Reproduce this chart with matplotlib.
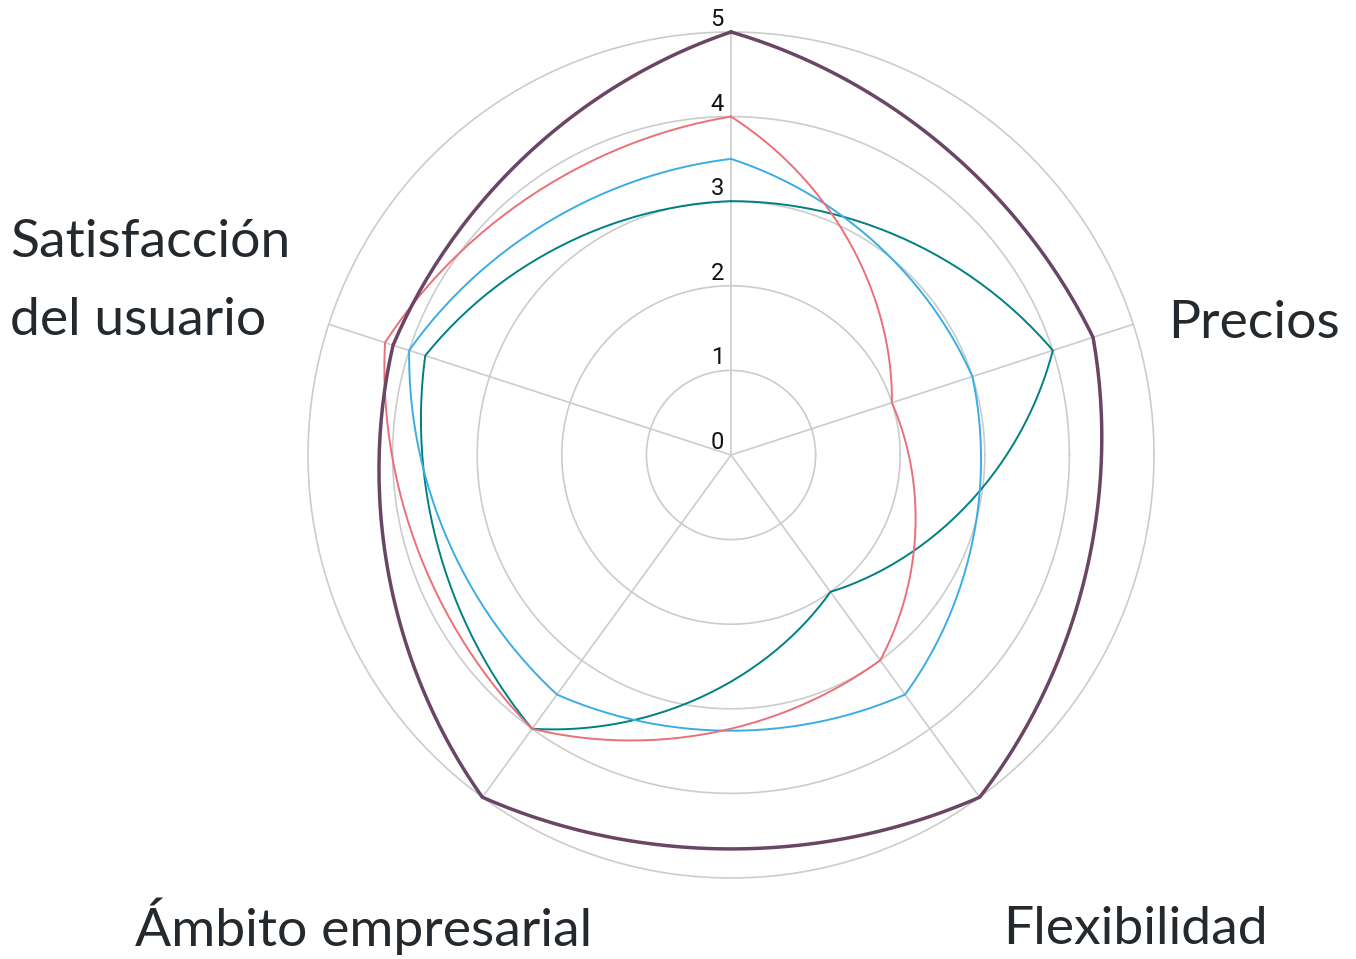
import numpy as np
import matplotlib
matplotlib.use("Agg")
import matplotlib.pyplot as plt

# ---- data ----
categories = ["", "Precios", "Flexibilidad", "Ámbito empresarial", "Satisfacción\ndel usuario"]
series_purple = [5, 4.5, 5, 5, 4.2]
series_red = [4, 2, 3, 4, 4.3]
series_blue = [3.5, 3, 3.5, 3.5, 4]
series_teal = [3, 4, 2, 4, 3.8]
tick_values = [0, 1, 2, 3, 4, 5]

colors = {"purple": "#6b4566", "red": "#eb7077", "blue": "#3aade6", "teal": "#008080"}

W, H = 1356, 959
CX, CY = 731, 455          # centre in pixels (from top-left)
PPU = 84.6                 # pixels per unit
RMAX = 5

fig = plt.figure(figsize=(W / 100, H / 100), dpi=100)
ax = fig.add_axes([0, 0, 1, 1])
ax.set_xlim(-CX / PPU, (W - CX) / PPU)
ax.set_ylim(-(H - CY) / PPU, CY / PPU)
ax.axis("off")

n = len(categories)
angles = np.deg2rad(90 - 360 / n * np.arange(n))

grid_col = "#cccccc"
th = np.linspace(0, 2 * np.pi, 400)
for r in tick_values[1:]:
    ax.plot(r * np.cos(th), r * np.sin(th), color=grid_col, lw=1.2, zorder=1)
for a in angles:
    ax.plot([0, RMAX * np.cos(a)], [0, RMAX * np.sin(a)], color=grid_col, lw=1.2, zorder=1)

ALPHA = 0.64


def curve(vals):
    xs, ys = [], []
    t = np.linspace(0, 1, 60)
    for i in range(n):
        j = (i + 1) % n
        a0 = angles[i]
        a1 = a0 - 2 * np.pi / n
        r0, r1 = vals[i], vals[j]
        rr = r0 + (r1 - r0) * t
        aa = a0 + (a1 - a0) * t
        px, py = rr * np.cos(aa), rr * np.sin(aa)
        A = np.array([r0 * np.cos(a0), r0 * np.sin(a0)])
        B = np.array([r1 * np.cos(a1), r1 * np.sin(a1)])
        cx = A[0] + (B[0] - A[0]) * t
        cy = A[1] + (B[1] - A[1]) * t
        xs.append(ALPHA * px + (1 - ALPHA) * cx)
        ys.append(ALPHA * py + (1 - ALPHA) * cy)
    return np.concatenate(xs), np.concatenate(ys)


for vals, col, lw in [(series_teal, colors["teal"], 1.4),
                      (series_blue, colors["blue"], 1.4),
                      (series_red, colors["red"], 1.4),
                      (series_purple, colors["purple"], 2.5)]:
    x, y = curve(vals)
    ax.plot(x, y, color=col, lw=lw, zorder=3, solid_joinstyle="miter")

# radial tick labels
for v in tick_values:
    ax.text(-7 / PPU, v + 6 / PPU, str(v), ha="right", va="baseline",
            fontsize=17, family="Roboto", color="#111111", zorder=4)


def px2d(px, py):
    return (px - CX) / PPU, (CY - py) / PPU


label_pos = {  # pixel anchor (left, baseline) for each line
    "Precios": [(1168, 338)],
    "Flexibilidad": [(1003, 944)],
    "Ámbito empresarial": [(135, 946)],
    "Satisfacción\ndel usuario": [(10, 257), (10, 335)],
}
for cat in categories:
    if not cat:
        continue
    for line, (px, py) in zip(cat.split("\n"), label_pos[cat]):
        x, y = px2d(px, py)
        ax.text(x, y, line, ha="left", va="baseline", fontsize=38.5,
                family="Lato", color="#24292e", zorder=4)

fig.savefig("out.png", dpi=100)
